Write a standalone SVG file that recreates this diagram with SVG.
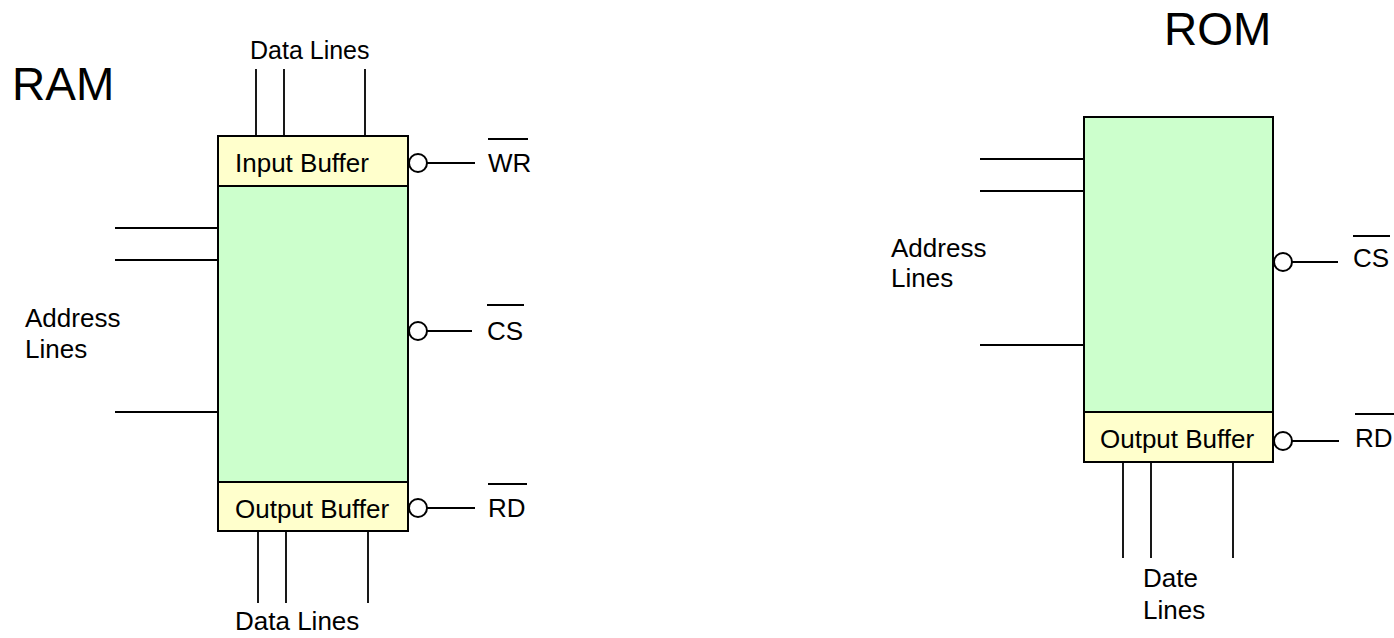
<svg xmlns="http://www.w3.org/2000/svg" width="1394" height="638" viewBox="0 0 1394 638">
<style>
text{font-family:"Liberation Sans",Arial,sans-serif;fill:#000}
.lbl{font-size:26px}
.dl{font-size:25px}
.title{font-size:46px}
.core{fill:#CCFFCC;stroke:#000;stroke-width:2}
.buf{fill:#FFFFCC;stroke:#000;stroke-width:2}
.ln{stroke:#000;stroke-width:1.8;fill:none}
.bub{fill:#fff;stroke:#000;stroke-width:2}
</style>
<rect width="1394" height="638" fill="#fff"/>
<g id="connectors">
<path class="ln" d="M256 69V136M284 69V136M365 69V136"/>
<path class="ln" d="M258 531V603M286 531V603M368 531V603"/>
<path class="ln" d="M115 228H218M115 260H218M115 412H218"/>
<path class="ln" d="M427 163H475M427 331H472M427 508H475"/>
<path class="ln" d="M980 159H1084M980 191H1084M980 345H1084"/>
<path class="ln" d="M1123 462V558M1151 462V558M1233 462V558"/>
<path class="ln" d="M1292 262H1338M1292 441H1339"/>
</g>
<g id="ram-title"><text class="title" x="12" y="100">RAM</text></g>
<g id="ram">
<rect class="core" x="218" y="186" width="190" height="296"/>
<rect class="buf" x="218" y="136" width="190" height="50"/>
<rect class="buf" x="218" y="482" width="190" height="49"/>
<text class="lbl" x="235" y="172">Input Buffer</text>
<text class="lbl" x="235" y="518">Output Buffer</text>
</g>
<g id="ram-bubbles">
<circle class="bub" cx="418" cy="163" r="9"/>
<circle class="bub" cx="418" cy="331" r="9"/>
<circle class="bub" cx="418" cy="508" r="9"/>
</g>
<g id="ram-labels">
<text class="dl" x="250" y="59">Data Lines</text>
<text class="lbl" x="235" y="630">Data Lines</text>
<text class="lbl" x="25" y="327">Address</text>
<text class="lbl" x="25" y="358">Lines</text>
<text class="lbl" x="488" y="172">WR</text>
<path class="ln" d="M488 139H528"/>
<text class="lbl" x="487" y="340">CS</text>
<path class="ln" d="M487 305H524"/>
<text class="lbl" x="488" y="517">RD</text>
<path class="ln" d="M488 484H527"/>
</g>
<g id="rom-title"><text class="title" x="1164" y="45">ROM</text></g>
<g id="rom">
<rect class="core" x="1084" y="117" width="189" height="296"/>
<rect class="buf" x="1084" y="412" width="189" height="50"/>
<text class="lbl" x="1100" y="448">Output Buffer</text>
</g>
<g id="rom-bubbles">
<circle class="bub" cx="1283" cy="262" r="9"/>
<circle class="bub" cx="1283" cy="441" r="9"/>
</g>
<g id="rom-labels">
<text class="lbl" x="891" y="257">Address</text>
<text class="lbl" x="891" y="287">Lines</text>
<text class="lbl" x="1143" y="587">Date</text>
<text class="lbl" x="1143" y="619">Lines</text>
<text class="lbl" x="1353" y="267">CS</text>
<path class="ln" d="M1353 236H1390"/>
<text class="lbl" x="1355" y="447">RD</text>
<path class="ln" d="M1355 414H1394"/>
</g>
</svg>
